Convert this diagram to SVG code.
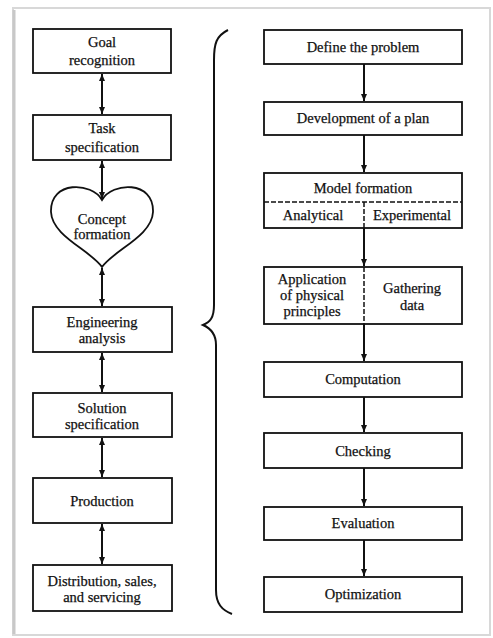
<svg xmlns="http://www.w3.org/2000/svg" width="493" height="638" viewBox="0 0 493 638">
<style>
.box{fill:#fff;stroke:#111;stroke-width:1.8}
.t{font-family:"Liberation Serif","DejaVu Serif",serif;font-size:14.5px;fill:#111;stroke:#111;stroke-width:0.25;text-anchor:middle}
.ln{stroke:#111;stroke-width:2;fill:none}
.dash{stroke:#111;stroke-width:1.5;stroke-dasharray:5,2;fill:none}
</style>
<defs>
<marker id="ah" markerWidth="8" markerHeight="8" refX="7" refY="4" orient="auto-start-reverse" markerUnits="userSpaceOnUse">
<path d="M0,1 L7,4 L0,7 Z" fill="#111"/>
</marker>
</defs>
<rect x="0" y="0" width="493" height="638" fill="#fff"/>
<rect x="13" y="8" width="477" height="627" fill="#fff" stroke="#d8d8d8" stroke-width="2"/>
<line x1="14" y1="10" x2="14" y2="634" stroke="#c8c8c8" stroke-width="3"/>
<g id="connectors">
<line class="ln" x1="102" y1="74" x2="102" y2="114" marker-start="url(#ah)" marker-end="url(#ah)"/>
<line class="ln" x1="102" y1="161" x2="102" y2="199" marker-start="url(#ah)" marker-end="url(#ah)"/>
<line class="ln" x1="102" y1="268" x2="102" y2="306" marker-start="url(#ah)" marker-end="url(#ah)"/>
<line class="ln" x1="102" y1="353" x2="102" y2="392" marker-start="url(#ah)" marker-end="url(#ah)"/>
<line class="ln" x1="102" y1="438" x2="102" y2="477" marker-start="url(#ah)" marker-end="url(#ah)"/>
<line class="ln" x1="102" y1="524" x2="102" y2="564" marker-start="url(#ah)" marker-end="url(#ah)"/>
<line class="ln" x1="364" y1="64" x2="364" y2="101" marker-end="url(#ah)"/>
<line class="ln" x1="364" y1="135" x2="364" y2="172" marker-end="url(#ah)"/>
<line class="ln" x1="364" y1="228" x2="364" y2="266" marker-end="url(#ah)"/>
<line class="ln" x1="364" y1="324" x2="364" y2="361" marker-end="url(#ah)"/>
<line class="ln" x1="364" y1="397" x2="364" y2="432" stroke-width="1.3" marker-end="url(#ah)"/>
<line class="ln" x1="364" y1="468" x2="364" y2="506" marker-end="url(#ah)"/>
<line class="ln" x1="364" y1="540" x2="364" y2="576" marker-end="url(#ah)"/>
</g>
<g id="brace">
<path class="ln" d="M228,30 C216,36 214,44 214,60 L214,305 C214,318 210,322 203,325 C210,328 216,334 216,345 L216,590 C216,604 222,610 232,614"/>
</g>
<g id="goal"><rect class="box" x="33" y="29" width="138" height="44"/><text class="t" x="102" y="47">Goal</text><text class="t" x="102" y="65">recognition</text></g>
<g id="task"><rect class="box" x="33" y="115" width="138" height="45"/><text class="t" x="102" y="133">Task</text><text class="t" x="102" y="152">specification</text></g>
<g id="concept"><path class="box" d="M102,200 C92,182 50,180 51,212 C52,236 90,250 102,267 C114,250 152,236 153,212 C154,180 112,182 102,200 Z"/><text class="t" x="102" y="224">Concept</text><text class="t" x="102" y="239">formation</text></g>
<g id="engineering"><rect class="box" x="33" y="307" width="139" height="45"/><text class="t" x="102" y="327">Engineering</text><text class="t" x="102" y="343">analysis</text></g>
<g id="solution"><rect class="box" x="33" y="393" width="139" height="44"/><text class="t" x="102" y="413">Solution</text><text class="t" x="102" y="429">specification</text></g>
<g id="production"><rect class="box" x="33" y="478" width="139" height="45"/><text class="t" x="102" y="506">Production</text></g>
<g id="distribution"><rect class="box" x="33" y="565" width="139" height="46"/><text class="t" x="102" y="586">Distribution, sales,</text><text class="t" x="102" y="602">and servicing</text></g>
<g id="define"><rect class="box" x="264" y="30" width="198" height="34"/><text class="t" x="363" y="52">Define the problem</text></g>
<g id="plan"><rect class="box" x="264" y="102" width="198" height="33"/><text class="t" x="363" y="123">Development of a plan</text></g>
<g id="model"><rect class="box" x="264" y="173" width="198" height="55"/><line class="dash" x1="264" y1="202" x2="462" y2="202"/><line class="dash" x1="364" y1="202" x2="364" y2="228" stroke-width="1"/><text class="t" x="363" y="193">Model formation</text><text class="t" x="313" y="220">Analytical</text><text class="t" x="412" y="220">Experimental</text></g>
<g id="application"><rect class="box" x="264" y="267" width="198" height="57"/><line class="dash" x1="364" y1="267" x2="364" y2="324" stroke-width="1"/><text class="t" x="312" y="284">Application</text><text class="t" x="312" y="300">of physical</text><text class="t" x="312" y="316">principles</text><text class="t" x="412" y="293">Gathering</text><text class="t" x="412" y="310">data</text></g>
<g id="computation"><rect class="box" x="264" y="362" width="198" height="35"/><text class="t" x="363" y="384">Computation</text></g>
<g id="checking"><rect class="box" x="264" y="433" width="198" height="35"/><text class="t" x="363" y="456">Checking</text></g>
<g id="evaluation"><rect class="box" x="264" y="507" width="198" height="33"/><text class="t" x="363" y="528">Evaluation</text></g>
<g id="optimization"><rect class="box" x="264" y="577" width="198" height="35"/><text class="t" x="363" y="599">Optimization</text></g>
</svg>
